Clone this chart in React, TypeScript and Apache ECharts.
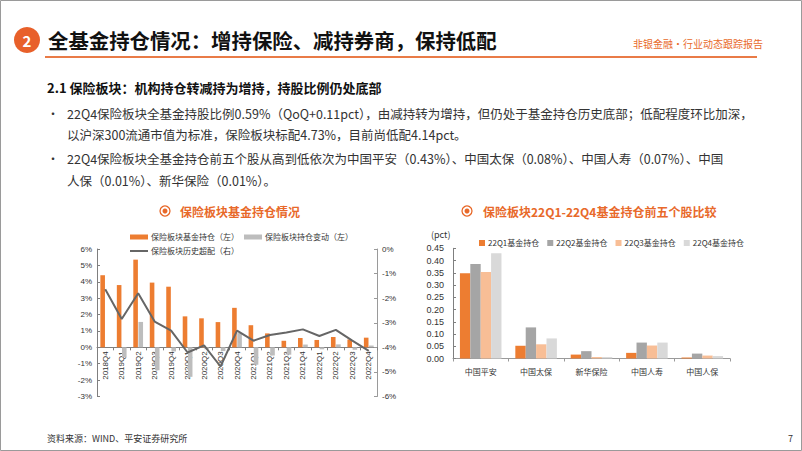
import React, { useEffect, useRef } from 'react';
import * as echarts from 'echarts';

const quarters = ['2018Q4', '2019Q1', '2019Q2', '2019Q3', '2019Q4', '2020Q1', '2020Q2', '2020Q3', '2020Q4', '2021Q1', '2021Q2', '2021Q3', '2021Q4', '2022Q1', '2022Q2', '2022Q3', '2022Q4'];
const holding = [4.4, 3.8, 5.35, 3.95, 3.7, 1.89, 1.77, 1.54, 2.41, 1.35, 0.85, 0.4, 0.57, 0.45, 0.63, 0.48, 0.59];
const change = [null, -0.6, 1.55, -1.4, -0.25, -1.8, -0.12, -0.23, 0.87, -1.06, -0.5, -0.45, 0.17, -0.12, 0.18, -0.15, 0.11];
const overweight = [-1.64, -2.85, -1.8, -2.95, -3.32, -4.21, -3.92, -4.78, -3.32, -3.73, -3.5, -3.4, -3.27, -3.54, -3.29, -3.73, -4.14];

const stocks = ['中国平安', '中国太保', '新华保险', '中国人寿', '中国人保'];
const q1 = [0.348, 0.052, 0.016, 0.023, 0.004];
const q2 = [0.386, 0.127, 0.03, 0.065, 0.02];
const q3 = [0.353, 0.058, 0.006, 0.053, 0.012];
const q4 = [0.43, 0.082, 0.006, 0.065, 0.01];

const leftSeriesNames = ['保险板块基金持仓（左）', '保险板块持仓变动（左）', '保险板块历史超配（右）'];
const rightSeriesNames = ['22Q1基金持仓', '22Q2基金持仓', '22Q3基金持仓', '22Q4基金持仓'];

const CJK = '"Noto Sans CJK SC", "Liberation Sans", sans-serif';
const LAT = '"Liberation Sans", "Noto Sans CJK SC", sans-serif';
const ORANGE = '#ED7D31';
const TITLE_ORANGE = '#E8692A';

// left chart layout: grid from y=249 to y=396.5, value range -3..6 -> zero line offset from bottom
const LEFT_TOP = 249;
const LEFT_BOTTOM = 396.5;
const LEFT_MIN = -3;
const LEFT_MAX = 6;
const zeroOffset = ((0 - LEFT_MIN) / (LEFT_MAX - LEFT_MIN)) * (LEFT_BOTTOM - LEFT_TOP);

function txt(x: number, y: number, text: string, size: number, color: string, weight: string = 'normal', align: string = 'left') {
  return {
    type: 'text',
    x,
    y,
    style: {
      text,
      fill: color,
      fontSize: size,
      fontFamily: CJK,
      fontWeight: weight,
      align,
      verticalAlign: 'middle',
    },
  };
}

function titleIcon(cx: number, cy: number) {
  return [
    { type: 'circle', shape: { cx, cy, r: 5 }, style: { fill: '#fff', stroke: TITLE_ORANGE, lineWidth: 1.3 } },
    { type: 'circle', shape: { cx, cy, r: 2.5 }, style: { fill: TITLE_ORANGE } },
  ];
}

export default function App() {
  const ref = useRef<HTMLDivElement>(null);
  useEffect(() => {
    document.body.style.margin = '0';
    const chart = echarts.init(ref.current as HTMLDivElement, null, { renderer: 'svg', width: 802, height: 451 });
    const bodyColor = '#333333';
    const option: any = {
      animation: false,
      backgroundColor: '#ffffff',
      textStyle: { fontFamily: LAT },
      graphic: [
        { type: 'rect', shape: { x: 0.5, y: 0.5, width: 801, height: 450 }, style: { fill: 'none', stroke: '#9a9a9a', lineWidth: 1 } },
        { type: 'circle', shape: { cx: 27, cy: 40, r: 13 }, style: { fill: '#E8602A' } },
        txt(27, 40, '2', 15, '#ffffff', 'bold', 'center'),
        txt(48, 40, '全基金持仓情况：增持保险、减持券商，保持低配', 20.4, '#111111', 'bold'),
        txt(763, 43, '非银金融·行业动态跟踪报告', 10, TITLE_ORANGE, 'normal', 'right'),
        { type: 'line', shape: { x1: 45, y1: 57, x2: 757, y2: 57 }, style: { stroke: '#E97B47', lineWidth: 1.8 } },
        txt(47, 87, '2.1 保险板块：机构持仓转减持为增持，持股比例仍处底部', 13, '#111111', 'bold'),
        txt(47, 113, '•', 12, bodyColor),
        txt(67, 113, '22Q4保险板块全基金持股比例0.59%（QoQ+0.11pct），由减持转为增持，但仍处于基金持仓历史底部；低配程度环比加深，', 12.5, bodyColor),
        txt(67, 134, '以沪深300流通市值为标准，保险板块标配4.73%，目前尚低配4.14pct。', 12.5, bodyColor),
        txt(47, 158, '•', 12, bodyColor),
        txt(67, 158, '22Q4保险板块全基金持仓前五个股从高到低依次为中国平安（0.43%）、中国太保（0.08%）、中国人寿（0.07%）、中国', 12.5, bodyColor),
        txt(67, 180, '人保（0.01%）、新华保险（0.01%）。', 12.5, bodyColor),
        ...titleIcon(165, 211),
        txt(180, 211, '保险板块基金持仓情况', 12, TITLE_ORANGE, 'bold'),
        ...titleIcon(467, 211),
        txt(483, 211, '保险板块22Q1-22Q4基金持仓前五个股比较', 12, TITLE_ORANGE, 'bold'),
        txt(431, 234, '(pct)', 9, bodyColor),
        txt(47, 438, '资料来源：WIND、平安证券研究所', 9, bodyColor),
        txt(793, 438, '7', 9, bodyColor, 'normal', 'right'),
      ],
      legend: [
        {
          left: 125,
          top: 228,
          itemWidth: 18,
          itemHeight: 5,
          itemGap: 5,
          icon: 'rect',
          data: [leftSeriesNames[0], leftSeriesNames[1]],
          textStyle: { fontSize: 8, color: bodyColor, fontFamily: CJK, padding: [0, 0, 0, -2] },
        },
        {
          left: 125,
          top: 242,
          itemWidth: 18,
          itemHeight: 2,
          icon: 'rect',
          data: [leftSeriesNames[2]],
          textStyle: { fontSize: 8, color: bodyColor, fontFamily: CJK, padding: [0, 0, 0, -2] },
        },
        {
          left: 474,
          top: 234,
          itemWidth: 6,
          itemHeight: 6,
          itemGap: 8,
          icon: 'rect',
          data: rightSeriesNames,
          textStyle: { fontSize: 8, color: bodyColor, fontFamily: CJK, padding: [0, 0, 0, -2] },
        },
      ],
      grid: [
        { left: 97, right: 425, top: LEFT_TOP, bottom: 451 - LEFT_BOTTOM },
        { left: 453, right: 72, top: 248.3, bottom: 92.5 },
      ],
      xAxis: [
        {
          type: 'category',
          gridIndex: 0,
          data: quarters,
          position: 'bottom',
          offset: -zeroOffset,
          axisLine: { onZero: false, lineStyle: { color: '#7f7f7f' } },
          axisTick: { show: true, length: 3, lineStyle: { color: '#7f7f7f' } },
          axisLabel: { rotate: 90, fontSize: 8, color: bodyColor, margin: 4, fontFamily: LAT, interval: 0 },
        },
        {
          type: 'category',
          gridIndex: 1,
          data: stocks,
          axisLine: { lineStyle: { color: '#9a9a9a' } },
          axisTick: { show: true, length: 3, lineStyle: { color: '#9a9a9a' } },
          axisLabel: { fontSize: 8, color: bodyColor, margin: 9, fontFamily: CJK, interval: 0 },
        },
      ],
      yAxis: [
        {
          type: 'value',
          gridIndex: 0,
          min: LEFT_MIN,
          max: LEFT_MAX,
          interval: 1,
          axisLine: { show: true, lineStyle: { color: '#7f7f7f' } },
          axisTick: { show: true, inside: true, length: 3, lineStyle: { color: '#7f7f7f' } },
          splitLine: { show: false },
          axisLabel: { formatter: (v: number) => v + '%', fontSize: 8, color: bodyColor, margin: 5 },
        },
        {
          type: 'value',
          gridIndex: 0,
          position: 'right',
          min: -6,
          max: 0,
          interval: 1,
          axisLine: { show: true, lineStyle: { color: '#9a9a9a' } },
          axisTick: { show: true, inside: true, length: 3, lineStyle: { color: '#9a9a9a' } },
          splitLine: { show: false },
          axisLabel: { formatter: (v: number) => v + '%', fontSize: 8, color: bodyColor, margin: 5 },
        },
        {
          type: 'value',
          gridIndex: 1,
          min: 0,
          max: 0.45,
          interval: 0.05,
          axisLine: { show: true, lineStyle: { color: '#7f7f7f' } },
          axisTick: { show: true, inside: true, length: 3, lineStyle: { color: '#7f7f7f' } },
          splitLine: { show: false },
          axisLabel: { formatter: (v: number) => v.toFixed(2), fontSize: 9, color: bodyColor, margin: 9 },
        },
      ],
      series: [
        {
          name: leftSeriesNames[0],
          type: 'bar',
          xAxisIndex: 0,
          yAxisIndex: 0,
          data: holding,
          barWidth: 4.6,
          barGap: '12%',
          itemStyle: { color: ORANGE },
        },
        {
          name: leftSeriesNames[1],
          type: 'bar',
          xAxisIndex: 0,
          yAxisIndex: 0,
          data: change,
          barWidth: 4.6,
          barGap: '12%',
          itemStyle: { color: '#BDBDBD' },
        },
        {
          name: leftSeriesNames[2],
          type: 'line',
          xAxisIndex: 0,
          yAxisIndex: 1,
          data: overweight,
          showSymbol: false,
          symbol: 'none',
          lineStyle: { color: '#666666', width: 2 },
          itemStyle: { color: '#666666' },
          z: 3,
        },
        ...[q1, q2, q3, q4].map((d, i) => ({
          name: rightSeriesNames[i],
          type: 'bar',
          xAxisIndex: 1,
          yAxisIndex: 2,
          data: d,
          barGap: '0%',
          barCategoryGap: '25%',
          itemStyle: { color: ['#ED7D31', '#A5A5A5', '#F8BE96', '#D9D9D9'][i] },
        })),
      ],
    };
    chart.setOption(option);
    return () => chart.dispose();
  }, []);
  return <div ref={ref} style={{ width: 802, height: 451, position: 'absolute', left: 0, top: 0, background: '#fff' }} />;
}
